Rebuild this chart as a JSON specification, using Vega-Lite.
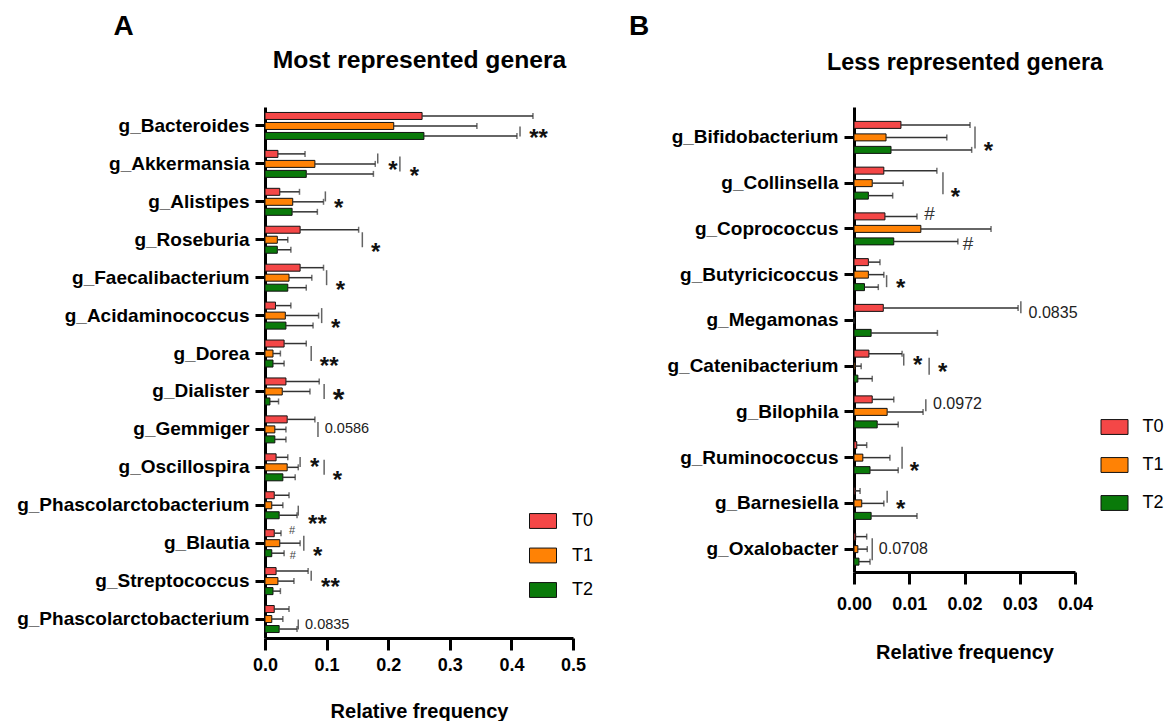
{
"$schema": "https://vega.github.io/schema/vega-lite/v6.json",
"padding": {"left": 16, "top": 12, "right": 2, "bottom": 0},
"background": "white",
"config": {
  "view": {"stroke": null},
  "font": "Liberation Sans",
  "axis": {"domainColor": "#000", "domainWidth": 3, "tickColor": "#000", "tickWidth": 3, "grid": false, "labelColor": "#000", "titleColor": "#000", "labelFont": "Liberation Sans", "titleFont": "Liberation Sans"},
  "legend": {"padding": 0, "labelFont": "Liberation Sans", "labelColor": "#000"}
},
"datasets": {
  "A": [
    {"g":"g_Bacteroides","t":"T0","v":0.255,"e":0.435},{"g":"g_Bacteroides","t":"T1","v":0.209,"e":0.344},{"g":"g_Bacteroides","t":"T2","v":0.258,"e":0.409},
    {"g":"g_Akkermansia","t":"T0","v":0.021,"e":0.065},{"g":"g_Akkermansia","t":"T1","v":0.081,"e":0.179},{"g":"g_Akkermansia","t":"T2","v":0.067,"e":0.176},
    {"g":"g_Alistipes","t":"T0","v":0.024,"e":0.056},{"g":"g_Alistipes","t":"T1","v":0.045,"e":0.095},{"g":"g_Alistipes","t":"T2","v":0.044,"e":0.085},
    {"g":"g_Roseburia","t":"T0","v":0.057,"e":0.152},{"g":"g_Roseburia","t":"T1","v":0.020,"e":0.037},{"g":"g_Roseburia","t":"T2","v":0.020,"e":0.042},
    {"g":"g_Faecalibacterium","t":"T0","v":0.057,"e":0.095},{"g":"g_Faecalibacterium","t":"T1","v":0.039,"e":0.076},{"g":"g_Faecalibacterium","t":"T2","v":0.037,"e":0.067},
    {"g":"g_Acidaminococcus","t":"T0","v":0.017,"e":0.042},{"g":"g_Acidaminococcus","t":"T1","v":0.033,"e":0.087},{"g":"g_Acidaminococcus","t":"T2","v":0.034,"e":0.078},
    {"g":"g_Dorea","t":"T0","v":0.031,"e":0.067},{"g":"g_Dorea","t":"T1","v":0.013,"e":0.025},{"g":"g_Dorea","t":"T2","v":0.013,"e":0.031},
    {"g":"g_Dialister","t":"T0","v":0.034,"e":0.088},{"g":"g_Dialister","t":"T1","v":0.028,"e":0.073},{"g":"g_Dialister","t":"T2","v":0.008,"e":0.022},
    {"g":"g_Gemmiger","t":"T0","v":0.036,"e":0.081},{"g":"g_Gemmiger","t":"T1","v":0.016,"e":0.034},{"g":"g_Gemmiger","t":"T2","v":0.016,"e":0.034},
    {"g":"g_Oscillospira","t":"T0","v":0.018,"e":0.037},{"g":"g_Oscillospira","t":"T1","v":0.036,"e":0.054},{"g":"g_Oscillospira","t":"T2","v":0.029,"e":0.049},
    {"g":"g_Phascolarctobacterium","t":"T0","v":0.015,"e":0.039},{"g":"g_Phascolarctobacterium","t":"T1","v":0.011,"e":0.029},{"g":"g_Phascolarctobacterium","t":"T2","v":0.023,"e":0.052},
    {"g":"g_Blautia","t":"T0","v":0.015,"e":0.026},{"g":"g_Blautia","t":"T1","v":0.024,"e":0.057},{"g":"g_Blautia","t":"T2","v":0.011,"e":0.031},
    {"g":"g_Streptococcus","t":"T0","v":0.018,"e":0.070},{"g":"g_Streptococcus","t":"T1","v":0.021,"e":0.047},{"g":"g_Streptococcus","t":"T2","v":0.013,"e":0.025},
    {"g":"g_Phascolarctobacterium ","t":"T0","v":0.015,"e":0.039},{"g":"g_Phascolarctobacterium ","t":"T1","v":0.011,"e":0.029},{"g":"g_Phascolarctobacterium ","t":"T2","v":0.023,"e":0.052}
  ],
  "Abr": [
    {"g":"g_Bacteroides","p":"T12","x":0.414,"span":"s"},
    {"g":"g_Akkermansia","p":"T01","x":0.183,"span":"s"},
    {"g":"g_Akkermansia","p":"T1","x":0.219,"span":"m"},
    {"g":"g_Alistipes","p":"T01","x":0.098,"span":"s"},
    {"g":"g_Roseburia","p":"T1","x":0.158,"span":"m"},
    {"g":"g_Faecalibacterium","p":"T1","x":0.100,"span":"m"},
    {"g":"g_Acidaminococcus","p":"T1","x":0.092,"span":"m"},
    {"g":"g_Dorea","p":"T1","x":0.075,"span":"m"},
    {"g":"g_Dialister","p":"T1","x":0.096,"span":"m"},
    {"g":"g_Gemmiger","p":"T1","x":0.086,"span":"m"},
    {"g":"g_Oscillospira","p":"T01","x":0.057,"span":"s"},
    {"g":"g_Oscillospira","p":"T1","x":0.096,"span":"m"},
    {"g":"g_Phascolarctobacterium","p":"T12","x":0.054,"span":"s"},
    {"g":"g_Blautia","p":"T1","x":0.063,"span":"m"},
    {"g":"g_Streptococcus","p":"T01","x":0.075,"span":"s"},
    {"g":"g_Phascolarctobacterium ","p":"T12","x":0.054,"span":"s"}
  ],
  "Atx": [
    {"g":"g_Bacteroides","p":"T12","x":0.429,"lab":"**","kind":"star"},
    {"g":"g_Akkermansia","p":"T1","x":0.200,"lab":"*","kind":"star"},
    {"g":"g_Akkermansia","p":"T12","x":0.235,"lab":"*","kind":"star"},
    {"g":"g_Alistipes","p":"T1","x":0.112,"lab":"*","kind":"star"},
    {"g":"g_Roseburia","p":"T12","x":0.172,"lab":"*","kind":"star"},
    {"g":"g_Faecalibacterium","p":"T12","x":0.115,"lab":"*","kind":"star"},
    {"g":"g_Acidaminococcus","p":"T12","x":0.107,"lab":"*","kind":"star"},
    {"g":"g_Dorea","p":"T12","x":0.089,"lab":"**","kind":"star"},
    {"g":"g_Dialister","p":"T1","x":0.110,"lab":"*","kind":"bigstar"},
    {"g":"g_Gemmiger","p":"T1","x":0.097,"lab":"0.0586","kind":"p"},
    {"g":"g_Oscillospira","p":"T01","x":0.073,"lab":"*","kind":"star"},
    {"g":"g_Oscillospira","p":"T12","x":0.110,"lab":"*","kind":"star"},
    {"g":"g_Phascolarctobacterium","p":"T2","x":0.070,"lab":"**","kind":"star"},
    {"g":"g_Blautia","p":"T0","x":0.039,"lab":"#","kind":"hash"},
    {"g":"g_Blautia","p":"T2","x":0.040,"lab":"#","kind":"hash"},
    {"g":"g_Blautia","p":"T12","x":0.078,"lab":"*","kind":"star"},
    {"g":"g_Streptococcus","p":"T1","x":0.091,"lab":"**","kind":"star"},
    {"g":"g_Phascolarctobacterium ","p":"T12","x":0.065,"lab":"0.0835","kind":"p"}
  ],
  "B": [
    {"g":"g_Bifidobacterium","t":"T0","v":0.0085,"e":0.0210},{"g":"g_Bifidobacterium","t":"T1","v":0.0058,"e":0.0168},{"g":"g_Bifidobacterium","t":"T2","v":0.0067,"e":0.0213},
    {"g":"g_Collinsella","t":"T0","v":0.0054,"e":0.0150},{"g":"g_Collinsella","t":"T1","v":0.0033,"e":0.0089},{"g":"g_Collinsella","t":"T2","v":0.0026,"e":0.0070},
    {"g":"g_Coprococcus","t":"T0","v":0.0056,"e":0.0114},{"g":"g_Coprococcus","t":"T1","v":0.0121,"e":0.0248},{"g":"g_Coprococcus","t":"T2","v":0.0072,"e":0.0188},
    {"g":"g_Butyricicoccus","t":"T0","v":0.0026,"e":0.0047},{"g":"g_Butyricicoccus","t":"T1","v":0.0026,"e":0.0054},{"g":"g_Butyricicoccus","t":"T2","v":0.0019,"e":0.0044},
    {"g":"g_Megamonas","t":"T0","v":0.0053,"e":0.0297},{"g":"g_Megamonas","t":"T1","v":0.0,"e":0.0},{"g":"g_Megamonas","t":"T2","v":0.0031,"e":0.0151},
    {"g":"g_Catenibacterium","t":"T0","v":0.0027,"e":0.0087},{"g":"g_Catenibacterium","t":"T1","v":0.0002,"e":0.0013},{"g":"g_Catenibacterium","t":"T2","v":0.0007,"e":0.0033},
    {"g":"g_Bilophila","t":"T0","v":0.0033,"e":0.0072},{"g":"g_Bilophila","t":"T1","v":0.0060,"e":0.0125},{"g":"g_Bilophila","t":"T2","v":0.0042,"e":0.0080},
    {"g":"g_Ruminococcus","t":"T0","v":0.0005,"e":0.0023},{"g":"g_Ruminococcus","t":"T1","v":0.0016,"e":0.0065},{"g":"g_Ruminococcus","t":"T2","v":0.0029,"e":0.0080},
    {"g":"g_Barnesiella","t":"T0","v":0.0002,"e":0.0011},{"g":"g_Barnesiella","t":"T1","v":0.0014,"e":0.0054},{"g":"g_Barnesiella","t":"T2","v":0.0031,"e":0.0114},
    {"g":"g_Oxalobacter","t":"T0","v":0.0003,"e":0.0023},{"g":"g_Oxalobacter","t":"T1","v":0.0007,"e":0.0024},{"g":"g_Oxalobacter","t":"T2","v":0.0009,"e":0.0029}
  ],
  "Bbr": [
    {"g":"g_Bifidobacterium","p":"T1","x":0.0219,"span":"l"},
    {"g":"g_Collinsella","p":"T1","x":0.0161,"span":"l"},
    {"g":"g_Butyricicoccus","p":"T12","x":0.0059,"span":"s"},
    {"g":"g_Megamonas","p":"T0","x":0.0302,"span":"s"},
    {"g":"g_Catenibacterium","p":"T01","x":0.0090,"span":"s"},
    {"g":"g_Catenibacterium","p":"T1","x":0.0136,"span":"m"},
    {"g":"g_Bilophila","p":"T01","x":0.0130,"span":"s"},
    {"g":"g_Ruminococcus","p":"T1","x":0.0087,"span":"l"},
    {"g":"g_Barnesiella","p":"T01","x":0.0060,"span":"s"},
    {"g":"g_Oxalobacter","p":"T1","x":0.0033,"span":"l"}
  ],
  "Btx": [
    {"g":"g_Bifidobacterium","p":"T12","x":0.0235,"lab":"*","kind":"star"},
    {"g":"g_Collinsella","p":"T12","x":0.0175,"lab":"*","kind":"star"},
    {"g":"g_Coprococcus","p":"T0","x":0.0127,"lab":"#","kind":"hash"},
    {"g":"g_Coprococcus","p":"T2","x":0.0197,"lab":"#","kind":"hash"},
    {"g":"g_Butyricicoccus","p":"T12","x":0.0076,"lab":"*","kind":"star"},
    {"g":"g_Megamonas","p":"T01","x":0.0316,"lab":"0.0835","kind":"p"},
    {"g":"g_Catenibacterium","p":"T01","x":0.0107,"lab":"*","kind":"star"},
    {"g":"g_Catenibacterium","p":"T1","x":0.0152,"lab":"*","kind":"star"},
    {"g":"g_Bilophila","p":"T01","x":0.0143,"lab":"0.0972","kind":"p"},
    {"g":"g_Ruminococcus","p":"T12","x":0.0101,"lab":"*","kind":"star"},
    {"g":"g_Barnesiella","p":"T1","x":0.0076,"lab":"*","kind":"star"},
    {"g":"g_Oxalobacter","p":"T1","x":0.0045,"lab":"0.0708","kind":"p"}
  ]
},
"hconcat": [
  {
    "width": 308, "height": 531,
    "encoding": {
      "y": {"field": "g", "type": "nominal",
        "scale": {"domain": ["g_Bacteroides","g_Akkermansia","g_Alistipes","g_Roseburia","g_Faecalibacterium","g_Acidaminococcus","g_Dorea","g_Dialister","g_Gemmiger","g_Oscillospira","g_Phascolarctobacterium","g_Blautia","g_Streptococcus","g_Phascolarctobacterium "], "paddingInner": 0, "paddingOuter": 0},
        "axis": {"title": "A", "titleAngle": 0, "titleX": -142, "titleY": -73, "titleAlign": "center", "titleBaseline": "alphabetic", "titleFontSize": 28, "titleFontWeight": "bold",
                 "labelFontSize": 19, "labelFontWeight": "bold", "labelPadding": 6, "tickSize": 10, "labelLimit": 400, "labelExpr": "trim(datum.label)", "bandPosition": 0.5}}
    },
    "layer": [
      {"data": {"name": "A"}, "mark": {"type": "bar", "stroke": "#111", "strokeWidth": 1},
       "encoding": {
         "yOffset": {"field": "t", "type": "nominal", "scale": {"domain": ["T0","T1","T2"], "paddingInner": 0.3, "paddingOuter": 0.546}},
         "x": {"field": "v", "type": "quantitative", "scale": {"domain": [0, 0.5], "nice": false},
               "axis": {"values": [0,0.1,0.2,0.3,0.4,0.5], "format": ".1f", "title": "Relative frequency", "titleFontSize": 20, "titleFontWeight": "bold", "titleY": 79, "titleBaseline": "alphabetic",
                        "labelFontSize": 18, "labelFontWeight": "bold", "tickSize": 12, "labelPadding": 6, "labelFlush": false, "labelOverlap": false}},
         "color": {"field": "t", "type": "nominal", "scale": {"domain": ["T0","T1","T2"], "range": ["#F44747","#FF8205","#0A7A0A"]},
                   "legend": {"title": null, "orient": "none", "legendX": 264, "legendY": 400, "symbolType": "M-1,-0.55H1V0.55H-1Z", "symbolSize": 729, "symbolStrokeColor": "#111", "symbolStrokeWidth": 1, "symbolOpacity": 1, "labelFontSize": 18, "labelOffset": 15, "rowPadding": 10.5}}
       }},
      {"data": {"name": "A"}, "mark": {"type": "rule", "color": "#333", "strokeWidth": 1.5},
       "encoding": {
         "yOffset": {"field": "t", "type": "nominal", "scale": {"domain": ["T0","T1","T2"], "paddingInner": 0.3, "paddingOuter": 0.546}},
         "x": {"field": "v", "type": "quantitative",
               "axis": {"orient": "top", "title": "Most represented genera", "labels": false, "ticks": false, "domain": false, "titleY": -40, "titleBaseline": "alphabetic", "titleFontSize": 24.7, "titleFontWeight": "bold"}},
         "x2": {"field": "e"}}},
      {"data": {"name": "A"}, "mark": {"type": "tick", "orient": "vertical", "color": "#333", "thickness": 1.5, "size": 6},
       "encoding": {
         "yOffset": {"field": "t", "type": "nominal", "scale": {"domain": ["T0","T1","T2"], "paddingInner": 0.3, "paddingOuter": 0.546}},
         "x": {"field": "e", "type": "quantitative", "axis": null}}},
      {"data": {"name": "Abr"}, "mark": {"type": "tick", "orient": "vertical", "color": "#222", "thickness": 1.5},
       "encoding": {
         "yOffset": {"field": "p", "type": "nominal", "scale": {"domain": ["T0","T01","T1","T12","T2"], "paddingInner": 0, "paddingOuter": 1.293}},
         "x": {"field": "x", "type": "quantitative", "axis": null},
         "size": {"field": "span", "type": "ordinal", "scale": {"domain": ["s","m","l"], "range": [10, 20, 25]}, "legend": null}}},
      {"data": {"name": "Atx"}, "transform": [{"filter": "datum.kind == 'star'"}],
       "mark": {"type": "text", "align": "left", "baseline": "middle", "fontSize": 24, "fontWeight": "bold", "dy": 7, "color": "#111"},
       "encoding": {
         "yOffset": {"field": "p", "type": "nominal", "scale": {"domain": ["T0","T01","T1","T12","T2"], "paddingInner": 0, "paddingOuter": 1.293}},
         "x": {"field": "x", "type": "quantitative", "axis": null}, "text": {"field": "lab"}}},
      {"data": {"name": "Atx"}, "transform": [{"filter": "datum.kind == 'bigstar'"}],
       "mark": {"type": "text", "align": "left", "baseline": "middle", "fontSize": 30, "fontWeight": "bold", "dy": 8.5, "color": "#111"},
       "encoding": {
         "yOffset": {"field": "p", "type": "nominal", "scale": {"domain": ["T0","T01","T1","T12","T2"], "paddingInner": 0, "paddingOuter": 1.293}},
         "x": {"field": "x", "type": "quantitative", "axis": null}, "text": {"field": "lab"}}},
      {"data": {"name": "Atx"}, "transform": [{"filter": "datum.kind == 'p'"}],
       "mark": {"type": "text", "align": "left", "baseline": "middle", "fontSize": 14.5, "color": "#222"},
       "encoding": {
         "yOffset": {"field": "p", "type": "nominal", "scale": {"domain": ["T0","T01","T1","T12","T2"], "paddingInner": 0, "paddingOuter": 1.293}},
         "x": {"field": "x", "type": "quantitative", "axis": null}, "text": {"field": "lab"}}},
      {"data": {"name": "Atx"}, "transform": [{"filter": "datum.kind == 'hash'"}],
       "mark": {"type": "text", "align": "left", "baseline": "middle", "fontSize": 11, "color": "#444"},
       "encoding": {
         "yOffset": {"field": "p", "type": "nominal", "scale": {"domain": ["T0","T01","T1","T12","T2"], "paddingInner": 0, "paddingOuter": 1.293}},
         "x": {"field": "x", "type": "quantitative", "axis": null}, "text": {"field": "lab"}}}
    ],
    "resolve": {"scale": {"yOffset": "independent"}, "axis": {"x": "independent"}}
  },
  {
    "width": 221, "height": 465,
    "encoding": {
      "y": {"field": "g", "type": "nominal",
        "scale": {"domain": ["g_Bifidobacterium","g_Collinsella","g_Coprococcus","g_Butyricicoccus","g_Megamonas","g_Catenibacterium","g_Bilophila","g_Ruminococcus","g_Barnesiella","g_Oxalobacter"], "paddingInner": 0, "paddingOuter": 0.082, "align": 1},
        "axis": {"title": "B", "titleAngle": 0, "titleX": -215.5, "titleY": -73, "titleAlign": "center", "titleBaseline": "alphabetic", "titleFontSize": 28, "titleFontWeight": "bold",
                 "labelFontSize": 19, "labelFontWeight": "bold", "labelPadding": 6, "tickSize": 10, "labelLimit": 400, "bandPosition": 0.5}}
    },
    "layer": [
      {"data": {"name": "B"}, "mark": {"type": "bar", "stroke": "#111", "strokeWidth": 1},
       "encoding": {
         "yOffset": {"field": "t", "type": "nominal", "scale": {"domain": ["T0","T1","T2"], "paddingInner": 0.44, "paddingOuter": 0.55}},
         "x": {"field": "v", "type": "quantitative", "scale": {"domain": [0, 0.04], "nice": false},
               "axis": {"values": [0,0.01,0.02,0.03,0.04], "format": ".2f", "title": "Relative frequency", "titleFontSize": 20, "titleFontWeight": "bold", "titleY": 86, "titleBaseline": "alphabetic",
                        "labelFontSize": 18, "labelFontWeight": "bold", "tickSize": 12, "labelPadding": 11, "labelFlush": false, "labelOverlap": false}},
         "color": {"field": "t", "type": "nominal", "scale": {"domain": ["T0","T1","T2"], "range": ["#F44747","#FF8205","#0A7A0A"]},
                   "legend": {"title": null, "orient": "none", "legendX": 246.5, "legendY": 306, "symbolType": "M-1,-0.55H1V0.55H-1Z", "symbolSize": 729, "symbolStrokeColor": "#111", "symbolStrokeWidth": 1, "symbolOpacity": 1, "labelFontSize": 18, "labelOffset": 14, "rowPadding": 14}}
       }},
      {"data": {"name": "B"}, "mark": {"type": "rule", "color": "#333", "strokeWidth": 1.5},
       "encoding": {
         "yOffset": {"field": "t", "type": "nominal", "scale": {"domain": ["T0","T1","T2"], "paddingInner": 0.44, "paddingOuter": 0.55}},
         "x": {"field": "v", "type": "quantitative",
               "axis": {"orient": "top", "title": "Less represented genera", "labels": false, "ticks": false, "domain": false, "titleY": -38, "titleBaseline": "alphabetic", "titleFontSize": 23.3, "titleFontWeight": "bold"}},
         "x2": {"field": "e"}}},
      {"data": {"name": "B"}, "mark": {"type": "tick", "orient": "vertical", "color": "#333", "thickness": 1.5, "size": 6},
       "encoding": {
         "yOffset": {"field": "t", "type": "nominal", "scale": {"domain": ["T0","T1","T2"], "paddingInner": 0.44, "paddingOuter": 0.55}},
         "x": {"field": "e", "type": "quantitative", "axis": null}}},
      {"data": {"name": "Bbr"}, "mark": {"type": "tick", "orient": "vertical", "color": "#222", "thickness": 1.5},
       "encoding": {
         "yOffset": {"field": "p", "type": "nominal", "scale": {"domain": ["T0","T01","T1","T12","T2"], "paddingInner": 0, "paddingOuter": 1.16}},
         "x": {"field": "x", "type": "quantitative", "axis": null},
         "size": {"field": "span", "type": "ordinal", "scale": {"domain": ["s","m","l"], "range": [12, 22, 25]}, "legend": null}}},
      {"data": {"name": "Btx"}, "transform": [{"filter": "datum.kind == 'star'"}],
       "mark": {"type": "text", "align": "left", "baseline": "middle", "fontSize": 24, "fontWeight": "bold", "dy": 7, "color": "#111"},
       "encoding": {
         "yOffset": {"field": "p", "type": "nominal", "scale": {"domain": ["T0","T01","T1","T12","T2"], "paddingInner": 0, "paddingOuter": 1.16}},
         "x": {"field": "x", "type": "quantitative", "axis": null}, "text": {"field": "lab"}}},
      {"data": {"name": "Btx"}, "transform": [{"filter": "datum.kind == 'p'"}],
       "mark": {"type": "text", "align": "left", "baseline": "middle", "fontSize": 16, "color": "#222"},
       "encoding": {
         "yOffset": {"field": "p", "type": "nominal", "scale": {"domain": ["T0","T01","T1","T12","T2"], "paddingInner": 0, "paddingOuter": 1.16}},
         "x": {"field": "x", "type": "quantitative", "axis": null}, "text": {"field": "lab"}}},
      {"data": {"name": "Btx"}, "transform": [{"filter": "datum.kind == 'hash'"}],
       "mark": {"type": "text", "align": "left", "baseline": "middle", "fontSize": 19, "color": "#333"},
       "encoding": {
         "yOffset": {"field": "p", "type": "nominal", "scale": {"domain": ["T0","T01","T1","T12","T2"], "paddingInner": 0, "paddingOuter": 1.16}},
         "x": {"field": "x", "type": "quantitative", "axis": null}, "text": {"field": "lab"}}}
    ],
    "resolve": {"scale": {"yOffset": "independent"}, "axis": {"x": "independent"}}
  }
],
"spacing": 34,
"resolve": {"scale": {"color": "independent", "size": "independent"}, "legend": {"color": "independent"}}
}
